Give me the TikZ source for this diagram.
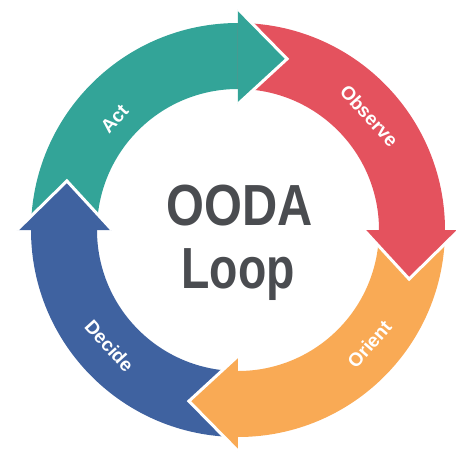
\documentclass[tikz,border=0pt]{standalone}
\usepackage{fontspec}
\setmainfont{Liberation Sans}
\definecolor{loopTeal}{HTML}{33A498}
\definecolor{loopRed}{HTML}{E4525E}
\definecolor{loopOrange}{HTML}{F9AA55}
\definecolor{loopBlue}{HTML}{3F62A0}
\definecolor{loopInk}{HTML}{4A4C50}
\tikzset{
 ooda/.style={line join=miter},
 headcut/.style={draw=white,line width=3pt,line join=miter},
 stage/.style={font=\fontsize{19}{19}\selectfont\bfseries,text=white,inner sep=0pt},
 bigword/.style={font=\fontsize{58}{63}\selectfont\bfseries,text=loopInk,inner sep=0pt,anchor=base}
}
\begin{document}
\begin{tikzpicture}[ooda,x=1pt,y=1pt]
 \useasboundingbox (-238,-221) rectangle (218,230);
 % ring bodies
 \fill[loopTeal] (180:207) arc[start angle=180,end angle=90,radius=207] -- (90:141) arc[start angle=90,end angle=180,radius=141] -- cycle;
 \fill[loopRed] (90:207) arc[start angle=90,end angle=0,radius=207] -- (0:141) arc[start angle=0,end angle=90,radius=141] -- cycle;
 \fill[loopOrange] (0:207) arc[start angle=0,end angle=-90,radius=207] -- (-90:141) arc[start angle=-90,end angle=0,radius=141] -- cycle;
 \fill[loopBlue] (-90:207) arc[start angle=-90,end angle=-180,radius=207] -- (-180:141) arc[start angle=-180,end angle=-90,radius=141] -- cycle;
 % arrow heads
 \coordinate (actTip) at (74:178); \coordinate (obsTip) at (-16:178);
 \coordinate (oriTip) at (-106:178); \coordinate (decTip) at (164:178);
 \fill[loopTeal] (90:126) -- (90:221) -- (actTip) -- cycle;
 \draw[headcut] (90:221) -- (actTip) -- (90:126);
 \fill[loopRed] (0:126) -- (0:221) -- (obsTip) -- cycle;
 \draw[headcut] (0:221) -- (obsTip) -- (0:126);
 \fill[loopOrange] (-90:126) -- (-90:221) -- (oriTip) -- cycle;
 \draw[headcut] (-90:221) -- (oriTip) -- (-90:126);
 \fill[loopBlue] (180:126) -- (180:221) -- (decTip) -- cycle;
 \draw[headcut] (180:221) -- (decTip) -- (180:126);
 % stage names
 \node[stage,rotate=48] (act) at (138:166) {Act};
 \node[stage,rotate=-48] (observe) at (41:174) {Observe};
 \node[stage,rotate=49] (orient) at (-41:174) {Orient};
 \node[stage,rotate=-48] (decide) at (222:173) {Decide};
 % centre title
 \node[bigword] (ooda) at (2,5) {\scalebox{0.84}[1]{OODA}};
 \node[bigword] (loop) at (0,-58) {\scalebox{0.80}[1]{Loop}};
\end{tikzpicture}
\end{document}
